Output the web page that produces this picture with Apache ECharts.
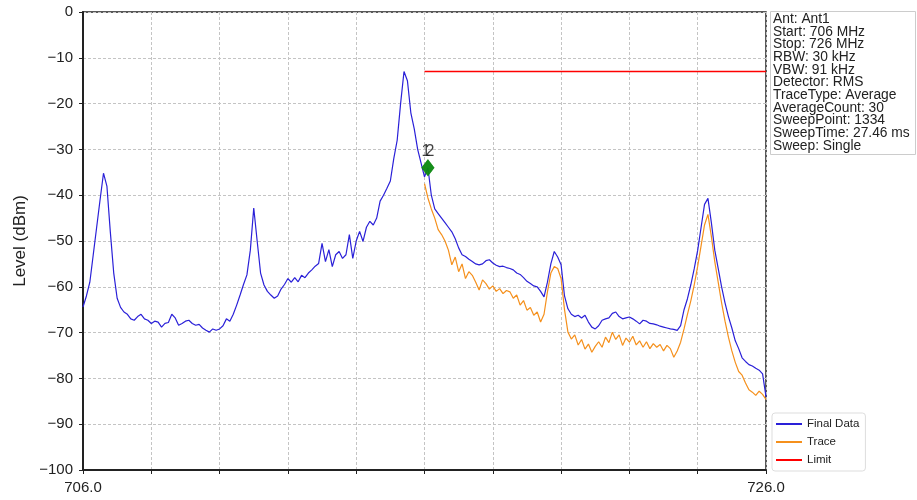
<!DOCTYPE html>
<html>
<head>
<meta charset="utf-8">
<script src="https://cdn.jsdelivr.net/npm/echarts@6/dist/echarts.min.js"></script>
<style>
  html, body { margin: 0; padding: 0; background: #fff; }
  #main { width: 917px; height: 500px; }
</style>
</head>
<body>
<div id="main"></div>
<script>
// sweep: 706 - 726 MHz, one value every 0.1 MHz
var startMHz = 706, stepMHz = 0.1;

var finalData = [
  -64.4, -62, -59, -53, -47, -41, -35.2, -38, -48, -57,
  -62.5, -64.5, -65.5, -66, -67, -67.3, -66.5, -66, -67, -67.3,
  -68, -67.5, -67.7, -68.8, -68, -67.8, -66, -66.8, -68.4, -68,
  -67.5, -67.3, -68, -68.4, -68.2, -69, -69.5, -69.9, -69.2, -69.5,
  -69.2, -68.5, -67, -67.5, -66, -64, -61.8, -59.5, -57.4, -52,
  -42.8, -50, -57, -59.6, -61, -61.8, -62.5, -62, -60.5, -59.5,
  -58.2, -59, -58, -58.9, -57.5, -58, -57, -56.3, -55.5, -54.9,
  -50.5, -54.5, -51.9, -55.6, -53, -52.3, -53.8, -53, -48.6, -53.8,
  -50, -47.9, -50.1, -47, -45.7, -46.5, -45, -41.3, -40, -38.5,
  -36.9, -32, -28, -20, -13, -15, -22, -25.5, -30, -33,
  -36, -34, -40, -43, -44, -45, -46, -47, -48, -49.5,
  -51.5, -53, -53.4, -54, -54.5, -55, -55.2, -55, -54.3, -54.1,
  -54.8, -55.3, -55.6, -55.5, -55.8, -56, -56.3, -57, -57.3, -58,
  -58.8, -59.3, -59.8, -60, -61, -62.2, -59, -55, -52.3, -53.5,
  -55.2, -62, -64.8, -66, -66.5, -66.2, -66.8, -66.2, -67.7, -68.8,
  -69.2, -68.5, -67.3, -67, -66.8, -65.8, -65.5, -66.5, -67, -66.8,
  -66.6, -67, -67.5, -68.1, -67.3, -67.5, -68, -68.1, -68.3, -68.6,
  -68.8, -69, -69.2, -69.3, -69.5, -68.5, -65, -62.6, -59.5, -56,
  -52, -47, -42, -40.7, -46, -52, -56, -60, -63.5, -66.5,
  -69, -71.8, -73.5, -75.5, -76.3, -77, -77.3, -77.8, -78.2, -79,
  -84
];

// trace starts at 716.0 MHz
var traceStartIndex = 100;
var traceData = [
  -37.5, -40.6, -43, -45, -47.5, -48.6, -50, -52, -55.2, -53.5,
  -56.7, -55, -58.2, -56.7, -57.5, -59, -60.7, -58.5, -59.3, -60.5,
  -59.8, -61, -60.4, -61.5, -60.8, -61.1, -62.5, -61.8, -64, -63,
  -65.1, -64.5, -66.2, -65.5, -67.7, -66, -61.1, -57, -55.6, -56,
  -58.2, -65, -69.9, -71.4, -70.5, -72.7, -71.5, -73.6, -72.5, -74.3,
  -73, -72, -73.2, -71, -72.2, -69.9, -71.5, -70.5, -72.8, -71.2,
  -72.1, -70.8, -72.7, -71.8, -73.2, -72, -73.5, -72.4, -73.2, -72.6,
  -74, -72.8, -73.5, -75.4, -74, -72.1, -69.2, -66, -63, -59.5,
  -55.5, -51, -46.5, -44.2, -49, -54.5, -59, -63.5, -67.5, -71,
  -74, -76.5, -78.5, -79.3, -81, -82.5, -83, -83.7, -82.8, -83.5,
  -84.6
];

var limitFreqs = [716.0, 726.0];
var limitLevels = [-13, -13];

var markerNames = ['1', '2'];
var markerFreqs = [716.1, 716.1];
var markerLevels = [-34, -34];

var xLabelValues = [706, 726];

var infoLines = [
  'Ant: Ant1',
  'Start: 706 MHz',
  'Stop: 726 MHz',
  'RBW: 30 kHz',
  'VBW: 91 kHz',
  'Detector: RMS',
  'TraceType: Average',
  'AverageCount: 30',
  'SweepPoint: 1334',
  'SweepTime: 27.46 ms',
  'Sweep: Single'
];

function toPairs(vals, offset) {
  return vals.map(function (v, i) {
    return [+(startMHz + (i + offset) * stepMHz).toFixed(1), v];
  });
}

var font = 'Liberation Sans, Arial, sans-serif';
var gridLine = { show: true, lineStyle: { color: '#c4c4c4', type: [3, 2], width: 1 } };

var chart = echarts.init(document.getElementById('main'));
chart.setOption({
  animation: false,
  textStyle: { fontFamily: font },
  grid: {
    left: 83, right: 151, top: 12, bottom: 30,
    show: true, borderColor: '#222', borderWidth: 1.5, backgroundColor: '#fff'
  },
  xAxis: {
    type: 'value', min: 706, max: 726, interval: 2,
    axisLine: { onZero: false, lineStyle: { color: '#222', width: 2 } },
    axisTick: { show: true, length: 4, lineStyle: { color: '#222' } },
    axisLabel: {
      color: '#222', fontSize: 15, margin: 10,
      formatter: function (v) { return xLabelValues.indexOf(v) >= 0 ? v.toFixed(1) : ''; }
    },
    splitLine: gridLine
  },
  yAxis: {
    type: 'value', min: -100, max: 0, interval: 10,
    name: 'Level (dBm)', nameLocation: 'middle', nameGap: 52,
    nameTextStyle: { fontSize: 17, color: '#222' },
    axisLine: { onZero: false, lineStyle: { color: '#222', width: 2 } },
    axisTick: { show: true, length: 4, lineStyle: { color: '#222' } },
    axisLabel: {
      color: '#222', fontSize: 15, margin: 10,
      formatter: function (v) { return String(v).replace('-', '\u2212'); }
    },
    splitLine: gridLine
  },
  legend: {
    data: ['Final Data', 'Trace', 'Limit'],
    orient: 'vertical', left: 772, top: 413,
    icon: 'rect', itemWidth: 26, itemHeight: 2, itemGap: 6,
    padding: [5, 6, 5, 4],
    backgroundColor: '#fff', borderColor: '#ddd', borderWidth: 1, borderRadius: 3,
    textStyle: { fontSize: 11.5, color: '#222' }
  },
  series: [
    {
      name: 'Final Data', type: 'line', data: toPairs(finalData, 0),
      showSymbol: false, color: '#2a20d8',
      lineStyle: { width: 1.2 }, z: 2
    },
    {
      name: 'Trace', type: 'line', data: toPairs(traceData, traceStartIndex),
      showSymbol: false, color: '#f5901c',
      lineStyle: { width: 1.2 }, z: 3
    },
    {
      name: 'Limit', type: 'line',
      data: limitFreqs.map(function (f, i) { return [f, limitLevels[i]]; }),
      showSymbol: false, color: '#ff0000',
      lineStyle: { width: 1.5 }, z: 4
    },
    {
      name: 'Markers', type: 'scatter', symbol: 'diamond', symbolSize: [13, 17],
      color: '#0c8a12', z: 5,
      data: markerFreqs.map(function (f, i) {
        return {
          name: markerNames[i], value: [f, markerLevels[i]],
          label: { offset: [i === 0 ? -2 : 2, 0] }
        };
      }),
      label: {
        show: true, position: 'top', distance: 0,
        formatter: '{b}', color: '#111', fontSize: 16
      }
    }
  ],
  graphic: [
    {
      type: 'rect', left: 770, top: 11,
      shape: { width: 145, height: 143 },
      style: { fill: '#fff', stroke: '#ccc', lineWidth: 1 }
    },
    {
      type: 'text', left: 773, top: 12,
      style: {
        text: infoLines.join('\n'), font: '13.8px ' + font,
        lineHeight: 12.7, fill: '#222'
      }
    }
  ]
});
</script>
</body>
</html>
